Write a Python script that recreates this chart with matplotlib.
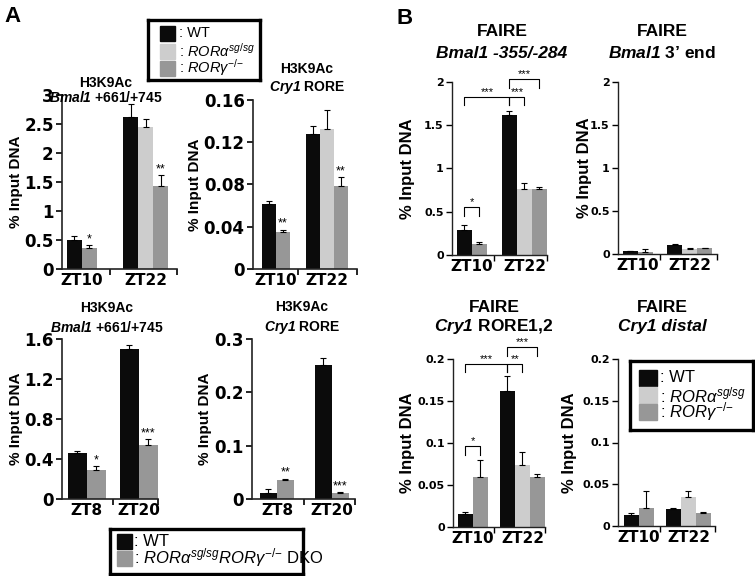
import numpy as np
import matplotlib
matplotlib.use('Agg')
import matplotlib.pyplot as plt
from matplotlib.patches import Rectangle

plt.rcParams['font.family'] = ['Liberation Sans', 'DejaVu Sans']
plt.rcParams['mathtext.fontset'] = 'custom'
plt.rcParams['mathtext.rm'] = 'Liberation Sans'
plt.rcParams['mathtext.it'] = 'Liberation Sans:italic'
plt.rcParams['mathtext.bf'] = 'Liberation Sans:bold'
plt.rcParams['mathtext.bfit'] = 'Liberation Sans:italic:bold'

nan = np.nan

# ============ data ============
groups_a_top = ['ZT10', 'ZT22']
groups_a_bot = ['ZT8', 'ZT20']
groups_b = ['ZT10', 'ZT22']

# A top: H3K9Ac ChIP, series = WT, RORa sg/sg, RORg -/-
a1_mean = [[0.50, 2.62], [nan, 2.44], [0.37, 1.43]]
a1_err = [[0.07, 0.22], [nan, 0.15], [0.04, 0.19]]
a1_star = [['', ''], ['', ''], ['*', '**']]

a2_mean = [[0.062, 0.128], [nan, 0.133], [0.035, 0.079]]
a2_err = [[0.002, 0.007], [nan, 0.018], [0.002, 0.008]]
a2_star = [['', ''], ['', ''], ['**', '**']]

# A bottom: WT vs DKO
a3_mean = [[0.46, 1.50], [0.29, 0.54]]
a3_err = [[0.02, 0.04], [0.04, 0.06]]
a3_star = [['', ''], ['*', '***']]

a4_mean = [[0.011, 0.251], [0.035, 0.011]]
a4_err = [[0.008, 0.013], [0.003, 0.002]]
a4_star = [['', ''], ['**', '***']]

# B: FAIRE
b1_mean = [[0.29, 1.62], [nan, 0.76], [0.13, 0.76]]
b1_err = [[0.06, 0.04], [nan, 0.07], [0.02, 0.03]]
# brackets: (group, bar, group, bar, height, label)
b1_brackets = [(0, 0, 0, 1, 0.55, '*'), (0, 0, 1, 0, 1.83, '***'),
               (1, 0, 1, 1, 1.83, '***'), (1, 0, 1, 2, 2.03, '***')]

b2_mean = [[0.03, 0.11], [nan, 0.06], [0.025, 0.065]]
b2_err = [[0.005, 0.01], [nan, 0.01], [0.03, 0.01]]

b3_mean = [[0.015, 0.162], [nan, 0.074], [0.060, 0.059]]
b3_err = [[0.003, 0.018], [nan, 0.015], [0.020, 0.004]]
b3_brackets = [(0, 0, 0, 1, 0.096, '*'), (0, 0, 1, 0, 0.194, '***'),
               (1, 0, 1, 1, 0.194, '**'), (1, 0, 1, 2, 0.214, '***')]

b4_mean = [[0.013, 0.020], [nan, 0.035], [0.022, 0.016]]
b4_err = [[0.003, 0.001], [nan, 0.007], [0.020, 0.001]]

c_wt, c_rora, c_rorg = '#0b0b0b', '#cdcdcd', '#979797'
colors3 = [c_wt, c_rora, c_rorg]
colors2 = [c_wt, c_rorg]

# ============ figure ============
W, H = 755, 576
fig = plt.figure(figsize=(W / 100, H / 100), dpi=100)


def px_axes(x0, y0, x1, y1):
    return fig.add_axes([x0 / W, 1 - y1 / H, (x1 - x0) / W, (y1 - y0) / H])


def bar_panel(box, means, errs, colors, groups, starts, xmax, ymax, yticks,
              tick_fs, ylab_x, ylab_fs, stars=None, brackets=None, lw=1.2):
    ax = px_axes(*box)
    centers = []
    for g in range(len(groups)):
        k = 0
        cg = []
        for s in range(len(means)):
            v = means[s][g]
            if np.isnan(v):
                continue
            x = starts[g] + k + 0.5
            ax.bar(x, v, width=1.0, color=colors[s], zorder=2)
            ax.errorbar(x, v, yerr=[[0], [errs[s][g]]], fmt='none', ecolor='black',
                        elinewidth=0.8, capsize=2, capthick=0.8, zorder=3)
            if stars is not None and stars[s][g]:
                ax.annotate(stars[s][g], (x, v + errs[s][g]), xytext=(0, 0),
                            textcoords='offset points', ha='center', va='bottom',
                            fontsize=9)
            cg.append((x, v + errs[s][g]))
            k += 1
        centers.append(cg)

    # brackets for pairwise comparisons
    if brackets:
        for g1, i1, g2, i2, h, lab in brackets:
            xa, xb = centers[g1][i1][0], centers[g2][i2][0]
            d = ymax * 0.05
            ax.plot([xa, xa, xb, xb], [h - d, h, h, h - d], color='black', lw=0.8,
                    clip_on=False, zorder=4)
            ax.text((xa + xb) / 2, h, lab, ha='center', va='bottom', fontsize=8,
                    clip_on=False)

    ax.set_xlim(0, xmax)
    ax.set_ylim(0, ymax)
    ax.set_yticks(yticks)
    ax.set_yticklabels(['%g' % t for t in yticks], fontsize=tick_fs,
                       fontweight='bold', family='DejaVu Sans')
    label_x = [np.mean([c[0] for c in cg]) for cg in centers]
    ax.set_xticks(label_x)
    ax.set_xticklabels(groups, fontsize=11, fontweight='bold', family='DejaVu Sans')
    ax.tick_params(axis='x', length=0, pad=3)
    div = (centers[0][-1][0] + centers[1][0][0]) / 2
    ax.set_xticks([div, xmax], minor=True)
    ax.tick_params(axis='x', which='minor', length=4, width=lw, direction='out')
    ax.tick_params(axis='y', length=4, width=lw, direction='out', pad=2)
    for sp in ['top', 'right']:
        ax.spines[sp].set_visible(False)
    for sp in ['left', 'bottom']:
        ax.spines[sp].set_linewidth(lw)
        ax.spines[sp].set_color('#222222')
    ax.set_ylabel('% Input DNA', fontsize=ylab_fs, fontweight='bold')
    ax.yaxis.set_label_coords(ylab_x, 0.5)
    return ax


def title2(xc, y1, y2, line1, line2, fs, **kw):
    fig.text(xc / W, 1 - y1 / H, line1, ha='center', va='center', fontsize=fs,
             fontweight='bold')
    fig.text(xc / W, 1 - y2 / H, line2, ha='center', va='center', fontsize=fs,
             fontweight='bold', **kw)


def key_box(box, entries, rows, px0, pw, ph, tx, fs):
    kax = px_axes(*box)
    x0, y0, x1, y1 = box
    kax.set_xlim(x0, x1)
    kax.set_ylim(y1, y0)
    kax.set_xticks([])
    kax.set_yticks([])
    for sp in kax.spines.values():
        sp.set_linewidth(2.4)
    for (lab, col), ry in zip(entries, rows):
        kax.add_patch(Rectangle((px0, ry - ph / 2), pw, ph, color=col))
        kax.text(tx, ry, lab, va='center', ha='left', fontsize=fs)


# ---- panel A ----
bar_panel((62, 95, 177, 269), a1_mean, a1_err, colors3, groups_a_top,
          [0.33, 4.07], 7.67, 3, [0, 0.5, 1, 1.5, 2, 2.5, 3], 12, -0.34, 11,
          stars=a1_star)
bar_panel((253, 100, 357, 269), a2_mean, a2_err, colors3, groups_a_top,
          [0.64, 3.79], 7.43, 0.16, [0, 0.04, 0.08, 0.12, 0.16], 12, -0.49, 11,
          stars=a2_star)
bar_panel((62, 339, 158, 499), a3_mean, a3_err, colors2, groups_a_bot,
          [0.3, 3.05], 5.05, 1.6, [0, 0.4, 0.8, 1.2, 1.6], 12, -0.41, 11,
          stars=a3_star)
bar_panel((252, 339, 355, 499), a4_mean, a4_err, colors2, groups_a_bot,
          [0.47, 3.7], 6.06, 0.3, [0, 0.1, 0.2, 0.3], 12, -0.39, 11,
          stars=a4_star)

title2(106, 83, 97, 'H3K9Ac', r'$\mathbfit{Bmal1}$ +661/+745', 10)
title2(307, 69, 87, 'H3K9Ac', r'$\mathbfit{Cry1}$ RORE', 10)
title2(107, 308, 328, 'H3K9Ac', r'$\mathbfit{Bmal1}$ +661/+745', 10)
title2(302, 307, 327, 'H3K9Ac', r'$\mathbfit{Cry1}$ RORE', 10)

# ---- panel B ----
bar_panel((452, 82, 547, 255), b1_mean, b1_err, colors3, groups_b,
          [0.33, 3.33], 6.33, 2, [0, 0.5, 1, 1.5, 2], 8, -0.39, 12,
          brackets=b1_brackets, lw=1.0)
bar_panel((618, 82, 717, 254), b2_mean, b2_err, colors3, groups_b,
          [0.33, 3.27], 6.6, 2, [0, 0.5, 1, 1.5, 2], 8, -0.26, 12, lw=1.0)
bar_panel((453, 359, 545, 527), b3_mean, b3_err, colors3, groups_b,
          [0.33, 3.13], 6.13, 0.2, [0, 0.05, 0.1, 0.15, 0.2], 8, -0.41, 12,
          brackets=b3_brackets, lw=1.0)
bar_panel((618, 359, 715, 526), b4_mean, b4_err, colors3, groups_b,
          [0.4, 3.2], 6.47, 0.2, [0, 0.05, 0.1, 0.15, 0.2], 8, -0.42, 12, lw=1.0)

title2(502, 32, 53, 'FAIRE', 'Bmal1 -355/-284', 12.5, style='italic')
title2(662, 32, 53, 'FAIRE', r"$\mathbfit{Bmal1}$ 3’ end", 12.5)
title2(494, 308, 327, 'FAIRE', r'$\mathbfit{Cry1}$ RORE1,2', 12.5)
title2(662, 308, 327, 'FAIRE', 'Cry1 distal', 12.5, style='italic')

# ---- panel letters ----
fig.text(4 / W, 1 - 16 / H, 'A', fontsize=16, fontweight='bold', va='center')
fig.text(397 / W, 1 - 18 / H, 'B', fontsize=16, fontweight='bold', va='center')

# ---- keys ----
lab_wt = ': WT'
lab_rora = r': $\mathit{RORα}^{\mathit{sg/sg}}$'
lab_rorg = r': $\mathit{RORγ}^{\mathit{{-}/{-}}}$'
lab_dko = r': $\mathit{RORα}^{\mathit{sg/sg}}\mathit{RORγ}^{\mathit{{-}/{-}}}$ DKO'

key_box((148, 20, 260, 80), [(lab_wt, c_wt), (lab_rora, c_rora), (lab_rorg, c_rorg)],
        [33, 51, 68], 160, 15, 15, 179, 10.5)
key_box((110, 529, 303, 574), [(lab_wt, c_wt), (lab_dko, c_rorg)],
        [541, 558], 117, 15, 15, 134, 12)
key_box((630, 361, 753, 430), [(lab_wt, c_wt), (lab_rora, c_rora), (lab_rorg, c_rorg)],
        [378, 395, 412], 639, 18, 16, 660, 12)

plt.savefig('out.png', dpi=100)
